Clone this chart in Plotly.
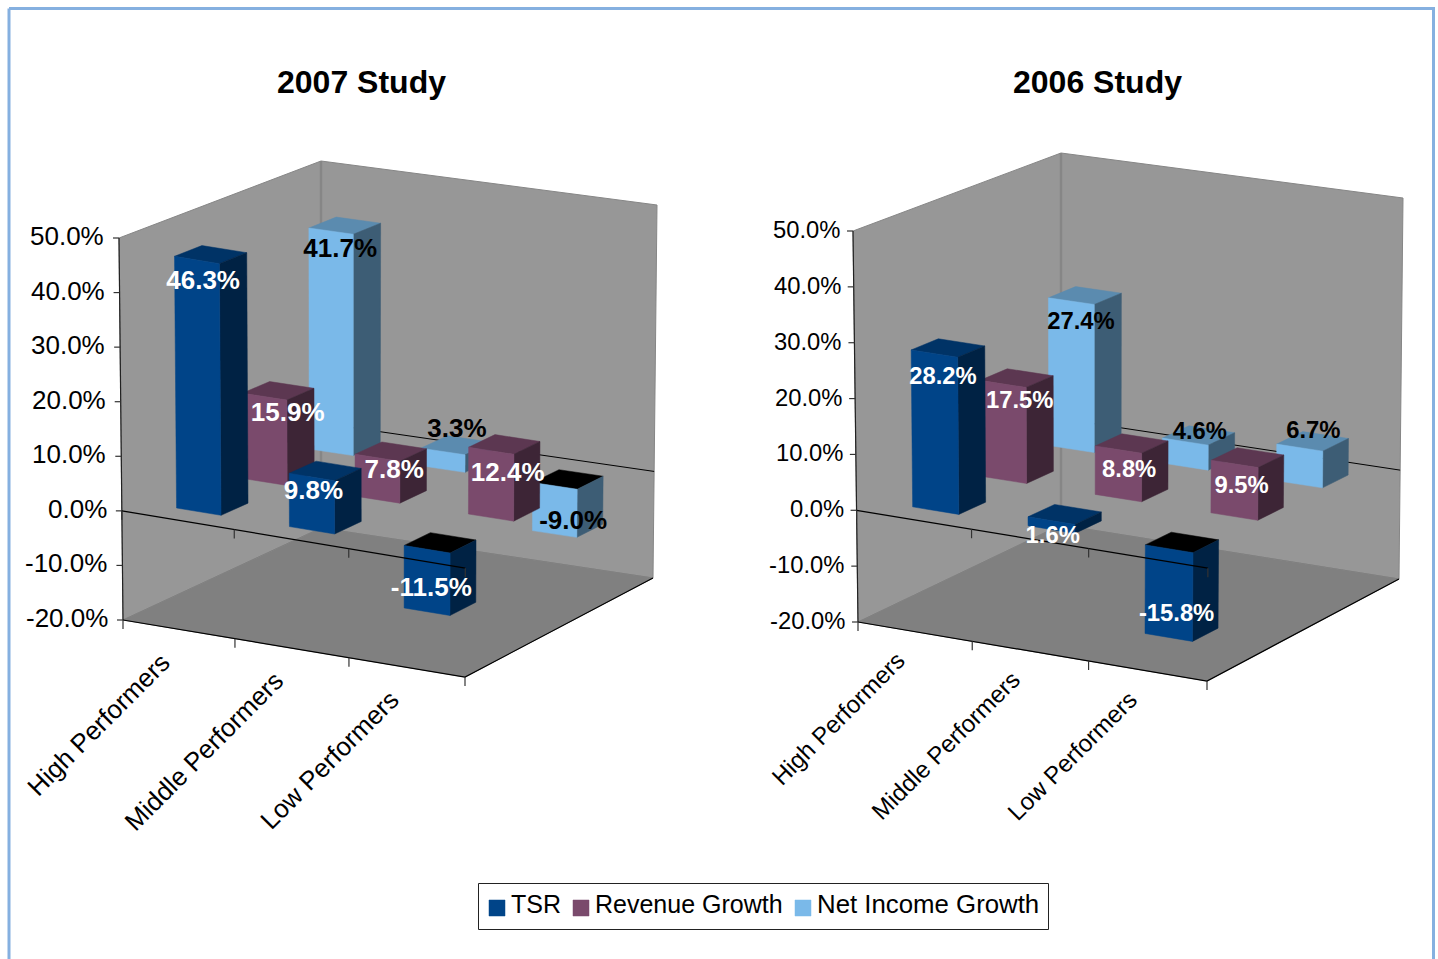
import plotly.graph_objects as go

SERIES = ["TSR", "Revenue Growth", "Net Income Growth"]
CATEGORIES = ["High Performers", "Middle Performers", "Low Performers"]
TICK_VALUES = [50, 40, 30, 20, 10, 0, -10, -20]
STUDY_2007_TSR = [46.3, 9.8, -11.5]
STUDY_2007_REVENUE = [15.9, 7.8, 12.4]
STUDY_2007_NET_INCOME = [41.7, 3.3, -9.0]
STUDY_2006_TSR = [28.2, 1.6, -15.8]
STUDY_2006_REVENUE = [17.5, 8.8, 9.5]
STUDY_2006_NET_INCOME = [27.4, 4.6, 6.7]

FRONT = ["#004488", "#7A4A6C", "#7AB9E9"]
SIDE = ["#002244", "#3D2536", "#3D5D75"]
TOP = ["#003366", "#5C3751", "#5B8BAF"]
LABEL_COLOR = ["white", "white", "black"]
WALL = "#979797"
FLOOR = "#808080"
WALL_EDGE = "#868686"
FONT = "Liberation Sans"
BAR_SHIFT = 0.004

# Projection frames of the two 3-D boxes: (front/back, left/right, bottom/top)
PANELS = [
    dict(title="2007 Study", title_x=361,
         values=[STUDY_2007_TSR, STUDY_2007_REVENUE, STUDY_2007_NET_INCOME],
         flb=(123, 620), frb=(465, 677), blb=(321, 528), brb=(653, 578),
         flt=(119, 238), frt=(466, 296), blt=(321, 161), brt=(657, 205),
         du=0.066, dw=0.068, tick_dx=-15, tick_dy=-2, tick_size=26,
         value_size=26, cat_size=25.9, cat_dx=-3, cat_dy=18,
         nudge=[[(-7.5, 27.5), (-11.8, 21.1), (-8.7, -15.2)],
                [(9.5, 23.5), (3.4, 20.4), (3.3, 29.8)],
                [(-4.6, 24.7), (0.7, -15), (5.5, -4.6)]]),
    dict(title="2006 Study", title_x=1097,
         values=[STUDY_2006_TSR, STUDY_2006_REVENUE, STUDY_2006_NET_INCOME],
         flb=(858, 622), frb=(1207, 681), blb=(1061, 525), brb=(1399, 579),
         flt=(853, 231), frt=(1210, 286), blt=(1061, 153), brt=(1403, 198),
         du=0.067, dw=0.066, tick_dx=-13, tick_dy=-1.5, tick_size=23.8,
         value_size=23.8, cat_size=24.2, cat_dx=-5, cat_dy=15,
         nudge=[[(-5, 30), (-12, 22.6), (-5, -16)],
                [(3, 24), (-2.5, 27.4), (-5.9, 29.3)],
                [(-4, 27.5), (1.3, -2.5), (0.6, -9.4)]]),
]

VMIN, VMAX = TICK_VALUES[-1], TICK_VALUES[0]


def project(p, u, w, v):
    u = u - 0.027 * u * (1 - u) * (1 - w)
    t = (v - VMIN) / (VMAX - VMIN)
    a, b, c, d = (1 - u) * (1 - w), u * (1 - w), (1 - u) * w, u * w
    out = []
    for k in (0, 1):
        bot = a * p["flb"][k] + b * p["frb"][k] + c * p["blb"][k] + d * p["brb"][k]
        top = a * p["flt"][k] + b * p["frt"][k] + c * p["blt"][k] + d * p["brt"][k]
        out.append(bot + t * (top - bot))
    return out


fig = go.Figure()


def poly(pts, fill=None, line=None, width=1, close=True):
    xs = [q[0] for q in pts]
    ys = [q[1] for q in pts]
    if close:
        xs.append(xs[0])
        ys.append(ys[0])
    fig.add_trace(go.Scatter(
        x=xs, y=ys, mode="lines", fill="toself" if fill else "none",
        fillcolor=fill, line=dict(color=line or fill, width=width),
        hoverinfo="skip", showlegend=False))


annotations = []


def note(x, y, text, size, color="black", bold=False, xanchor="center", yanchor="middle", angle=0):
    annotations.append(dict(
        x=x, y=y, xref="x", yref="y", text=f"<b>{text}</b>" if bold else text, showarrow=False,
        font=dict(family=FONT, size=size, color=color), xanchor=xanchor, yanchor=yanchor,
        textangle=angle, borderpad=0, borderwidth=0))


# outer frame
poly([(9, 8.5), (1433.5, 8.5), (1433.5, 975), (9, 975)], line="#85B0E0", width=3)

for p in PANELS:
    P = lambda u, w, v: project(p, u, w, v)
    # walls and floor
    poly([P(0, 0, VMIN), P(0, 0, VMAX), P(0, 1, VMAX), P(0, 1, VMIN)], fill=WALL, line=WALL_EDGE)
    poly([P(0, 1, VMIN), P(0, 1, VMAX), P(1, 1, VMAX), P(1, 1, VMIN)], fill=WALL, line=WALL_EDGE)
    poly([P(0, 1, VMAX), P(0, 1, VMIN)], line=WALL_EDGE, width=2.5, close=False)
    poly([P(0, 0, VMIN), P(0, 1, VMIN), P(1, 1, VMIN), P(1, 0, VMIN)], fill=FLOOR)
    # back zero line
    poly([P(0, 1, 0), P(1, 1, 0)], line="black", width=1, close=False)
    # bars, back row first
    for j in (2, 1, 0):
        w = (j + 0.5) / 3
        for i in range(3):
            u = (i + 0.5) / 3 + BAR_SHIFT
            val = p["values"][j][i]
            lo, hi = min(0, val), max(0, val)
            u0, u1, w0, w1 = u - p["du"], u + p["du"], w - p["dw"], w + p["dw"]
            poly([P(u0, w0, hi), P(u1, w0, hi), P(u1, w1, hi), P(u0, w1, hi)],
                 fill="black" if val < 0 else TOP[j], width=0.5)
            poly([P(u1, w0, lo), P(u1, w0, hi), P(u1, w1, hi), P(u1, w1, lo)], fill=SIDE[j], width=0.5)
            poly([P(u0, w0, lo), P(u0, w0, hi), P(u1, w0, hi), P(u1, w0, lo)], fill=FRONT[j], width=0.5)
    # front axes
    poly([P(0, 0, VMAX), P(0, 0, VMIN)], line="#222222", width=1.2, close=False)
    poly([P(0, 0, 0), P(1, 0, 0)], line="black", width=1.2, close=False)
    poly([P(0, 0, VMIN), P(1, 0, VMIN), P(1, 1, VMIN)], line="black", width=1.2, close=False)
    for k in range(4):
        for base in (0, VMIN):
            x, y = P(k / 3, 0, base)
            poly([(x, y), (x, y + 9)], line="#333333", width=1.2, close=False)
    # value axis
    for tv in TICK_VALUES:
        x, y = P(0, 0, tv)
        poly([(x - 6, y), (x, y)], line="#333333", width=1.2, close=False)
        note(x + p["tick_dx"], y + p["tick_dy"], f"{tv:.1f}%", p["tick_size"], xanchor="right")
    # category labels
    for i, name in enumerate(CATEGORIES):
        x, y = P((i + 0.5) / 3, 0, VMIN)
        note(x + p["cat_dx"], y + p["cat_dy"], name, p["cat_size"], xanchor="right", yanchor="top", angle=-45)
    # value labels
    for j in range(3):
        lx, ly, lt = [], [], []
        for i in range(3):
            val = p["values"][j][i]
            x, y = P((i + 0.5) / 3 + BAR_SHIFT, (j + 0.5) / 3, val)
            lx.append(x + p["nudge"][j][i][0])
            ly.append(y + p["nudge"][j][i][1])
            lt.append(f"<b>{val:.1f}%</b>")
        fig.add_trace(go.Scatter(
            x=lx, y=ly, text=lt, mode="text", textposition="middle center",
            textfont=dict(family=FONT, size=p["value_size"], color=LABEL_COLOR[j]),
            hoverinfo="skip", showlegend=False))
    note(p["title_x"], 82, p["title"], 32, bold=True)

# legend
poly([(478.5, 883.5), (1048.5, 883.5), (1048.5, 929.5), (478.5, 929.5)], line="#222222", width=1)
for name, color, sx, tx, sz in zip(SERIES, FRONT, (489, 573, 795), (511, 595, 817), (25, 25, 25.8)):
    poly([(sx, 900), (sx + 16, 900), (sx + 16, 916), (sx, 916)], fill=color, width=0.5)
    note(tx, 904, name, sz, xanchor="left")

fig.update_layout(
    width=1438, height=959, margin=dict(l=0, r=0, t=0, b=0),
    paper_bgcolor="white", plot_bgcolor="white", showlegend=False,
    xaxis=dict(range=[0, 1438], visible=False, fixedrange=True),
    yaxis=dict(range=[959, 0], visible=False, fixedrange=True),
    annotations=annotations,
)
fig.write_html("out.html", config=dict(displayModeBar=False),
               post_script="document.body.style.margin='0';document.body.style.overflow='hidden';")
